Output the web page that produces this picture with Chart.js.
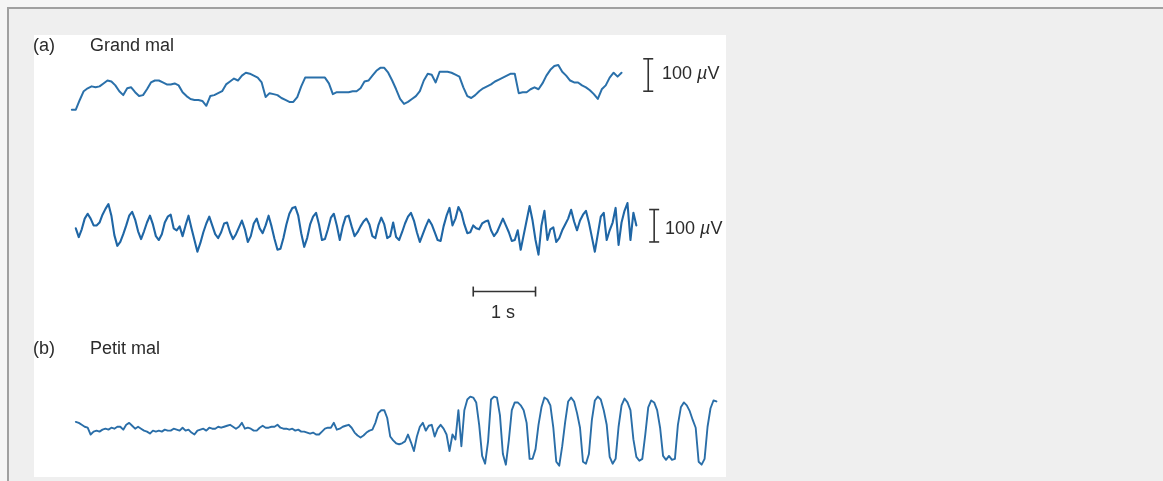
<!DOCTYPE html>
<html>
<head>
<meta charset="utf-8">
<script src="https://cdn.jsdelivr.net/npm/chart.js@4.4.1/dist/chart.umd.min.js"></script>
<style>
html,body{margin:0;padding:0;}
body{width:1163px;height:481px;background:#f5f5f5;position:relative;overflow:hidden;font-family:"Liberation Sans",Arial,sans-serif;}
#frame{position:absolute;left:7px;top:7px;right:0;bottom:0;border-top:2px solid #a0a0a0;border-left:2px solid #a0a0a0;background:#efefef;}
#panel{position:absolute;left:34px;top:35px;width:692px;height:442px;background:#ffffff;}
#chart{position:absolute;left:0;top:0;}
.lbl{position:absolute;font-size:18px;line-height:20px;color:#2b2b2b;white-space:nowrap;}
</style>
</head>
<body>
<div id="frame"></div>
<div id="panel"></div>
<canvas id="chart" width="1163" height="481"></canvas>
<div class="lbl" style="left:33px;top:35px">(a)</div>
<div class="lbl" style="left:90px;top:35px">Grand mal</div>
<div class="lbl" style="left:33px;top:338px">(b)</div>
<div class="lbl" style="left:90px;top:338px">Petit mal</div>
<div class="lbl" style="left:662px;top:63px">100 <i>µ</i>V</div>
<div class="lbl" style="left:665px;top:218px">100 <i>µ</i>V</div>
<div class="lbl" style="left:503px;top:302px;transform:translateX(-50%)">1 s</div>
<script>
// ---- data (µV samples) ----
const grandMalTrace1 = [-69,-69,-39,-12,-3,3,0,3,12,21,18,6,-12,-24,-3,0,-15,-27,-24,-6,15,21,21,15,9,9,12,6,-15,-27,-36,-39,-39,-42,-57,-27,-24,-18,-12,9,18,27,21,36,45,42,36,30,15,-30,-18,-21,-24,-33,-39,-45,-45,-30,3,30,30,30,30,30,30,12,-21,-15,-15,-15,-15,-12,-12,-3,18,21,36,51,60,60,45,21,-6,-36,-51,-45,-36,-27,-12,21,42,39,15,48,48,48,45,39,33,0,-27,-33,-24,-12,-3,3,9,18,24,30,36,42,42,-18,-15,-15,-6,0,-6,12,36,54,66,69,48,36,21,15,15,6,0,-9,-21,-36,-6,6,30,45,33,45];
const grandMalTrace2 = [0,-27,-3,30,45,30,9,9,18,42,60,75,39,-21,-54,-42,-18,9,39,51,27,-9,-33,-9,18,39,12,-24,-36,-18,18,36,42,0,-6,6,-24,9,39,0,-36,-72,-45,-12,15,36,9,-18,-30,-12,15,18,-12,-33,-18,3,24,-3,-42,-24,15,30,0,-15,9,39,6,-33,-66,-63,-30,12,45,63,66,39,-15,-57,-30,12,36,48,12,-36,-33,-3,33,45,9,-36,6,36,39,6,-24,-12,6,21,30,12,-24,-30,9,33,12,-30,-24,18,-27,-36,-12,15,36,48,24,-12,-42,-18,6,27,12,-12,-36,-39,6,39,63,9,30,66,48,12,-15,-12,9,0,-3,15,21,24,-6,-24,-12,9,30,9,-12,-39,-36,-6,-66,-21,24,69,24,-36,-81,9,54,-36,-3,3,-42,-30,-6,12,30,57,21,-6,24,42,54,18,-27,-72,-18,36,48,-36,-6,18,63,-51,18,54,78,-36,48,9];
const petitMalTrace = [24,21,15,9,6,-15,-6,-3,-6,0,3,0,6,3,9,9,0,15,21,12,3,9,3,-3,-6,-12,-3,-6,-3,-6,0,-3,-3,3,0,-3,6,-3,0,-9,-15,-3,0,3,-3,6,3,3,9,6,9,12,15,9,3,9,21,3,6,3,-3,-3,6,12,6,6,9,9,15,6,3,3,0,3,-3,0,-6,-6,-9,-12,-9,-15,-15,-6,3,6,6,21,0,3,9,12,15,6,-9,-18,-24,-18,-9,-3,0,21,51,60,60,36,-21,-33,-42,-45,-42,-36,-15,-39,-66,-21,9,21,-3,12,15,-21,3,15,3,-15,-66,-15,-30,60,-51,60,93,102,99,84,15,-81,-105,-36,93,102,99,45,-75,-108,-33,60,84,84,75,60,21,-90,-90,-60,15,69,99,93,75,6,-99,-111,-51,24,87,99,87,51,6,-99,-105,-75,30,90,102,93,60,15,-84,-105,-90,9,75,96,84,60,-30,-84,-96,-90,-15,69,90,84,60,6,-81,-93,-81,-93,-90,15,69,84,75,57,30,6,-99,-108,-90,9,66,90,87];
const sampleRates = [15.75, 21, 21];        // Hz, per trace
const scaleBarAmplitude = [100, 100];        // µV
const scaleBarDuration = [1];                // s
const traceColors = ['#2a70aa', '#1f66a5', '#2a6ea8'];

// ---- layout (pixel placement on the 1163x481 page) ----
const W = 1163, H = 481;
const PX_PER_S = 63, UV_PER_PX = 3;
const pos = {
  t1: {x0: 66, base: 83},
  t2: {x0: 70, base: 228},
  t3: {x0: 70, base: 435},
  bar1: {x: 649, bottom: 87},
  bar2: {x: 655, bottom: 242},
  tbar: {x0: 472, y: 293}
};
const tx = px => px / PX_PER_S;
const vy = py => -py * UV_PER_PX;

function trace(values, fs, p) {
  const t0 = tx(p.x0), off = vy(p.base);
  return values.map((v, i) => ({x: t0 + i / fs, y: v + off}));
}
function traceDs(data, color, w) {
  return {data, borderColor: color, borderWidth: w, pointRadius: 0, tension: 0,
          borderJoinStyle: 'round', borderCapStyle: 'round', fill: false};
}
function barDs(data, rot) {
  return {data, borderColor: '#333', borderWidth: 1.6, pointStyle: 'line', pointRadius: 5,
          pointRotation: rot, pointBorderColor: '#333', pointBorderWidth: 1.6, tension: 0, fill: false};
}

const datasets = [
  traceDs(trace(grandMalTrace1, sampleRates[0], pos.t1), traceColors[0], 2),
  traceDs(trace(grandMalTrace2, sampleRates[1], pos.t2), traceColors[1], 2.1),
  traceDs(trace(petitMalTrace, sampleRates[2], pos.t3), traceColors[2], 1.9),
  barDs([{x: tx(pos.bar1.x), y: vy(pos.bar1.bottom)}, {x: tx(pos.bar1.x), y: vy(pos.bar1.bottom) + scaleBarAmplitude[0]}], 0),
  barDs([{x: tx(pos.bar2.x), y: vy(pos.bar2.bottom)}, {x: tx(pos.bar2.x), y: vy(pos.bar2.bottom) + scaleBarAmplitude[1]}], 0),
  barDs([{x: tx(pos.tbar.x0), y: vy(pos.tbar.y)}, {x: tx(pos.tbar.x0) + scaleBarDuration[0], y: vy(pos.tbar.y)}], 90)
];

new Chart(document.getElementById('chart'), {
  type: 'line',
  data: {datasets},
  options: {
    responsive: false,
    devicePixelRatio: 1,
    animation: false,
    events: [],
    layout: {padding: 0},
    clip: false,
    plugins: {legend: {display: false}, tooltip: {enabled: false}, title: {display: false}},
    scales: {
      x: {type: 'linear', min: 0, max: W / PX_PER_S, display: false},
      y: {type: 'linear', min: -H * UV_PER_PX, max: 0, display: false}
    }
  }
});
</script>
</body>
</html>
